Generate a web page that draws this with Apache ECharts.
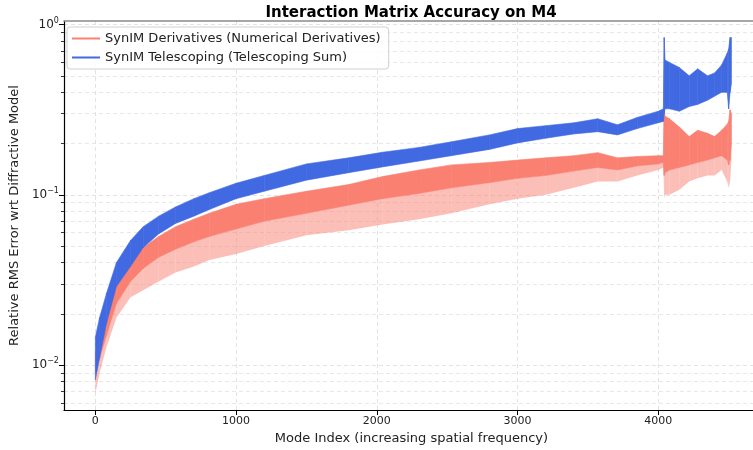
<!DOCTYPE html>
<html>
<head>
<meta charset="utf-8">
<script src="https://cdn.jsdelivr.net/npm/echarts@6/dist/echarts.min.js"></script>
<style>
  html, body { margin: 0; padding: 0; background: #fff; }
  #chart { width: 753px; height: 450px; }
</style>
</head>
<body>
<div id="chart"></div>
<script>
const modes = [0, 30, 80, 150, 250, 340, 450, 570, 700, 810, 1000, 1200, 1500, 1800, 2040, 2300, 2530, 2800, 3000,
  3200, 3400, 3570, 3710, 3850, 4000, 4036, 4042, 4048, 4080, 4150, 4220, 4280, 4350, 4400, 4450, 4490, 4500, 4510, 4520];

// SynIM Telescoping: upper / lower edge of the noisy band
const teleHi = [0.0146, 0.019, 0.0265, 0.040, 0.054, 0.065, 0.075, 0.085, 0.095, 0.103, 0.117, 0.13, 0.152, 0.165, 0.178,
  0.19, 0.205, 0.225, 0.245, 0.255, 0.265, 0.28, 0.258, 0.285, 0.31, 0.32, 0.84, 0.62, 0.60, 0.56, 0.50, 0.55, 0.50, 0.52,
  0.58, 0.68, 0.72, 0.84, 0.84];
const teleLo = [0.0082, 0.011, 0.0177, 0.029, 0.038, 0.049, 0.059, 0.068, 0.075, 0.082, 0.095, 0.105, 0.122, 0.135, 0.146,
  0.158, 0.17, 0.185, 0.202, 0.215, 0.228, 0.235, 0.225, 0.245, 0.265, 0.27, 0.30, 0.32, 0.32, 0.31, 0.33, 0.34, 0.36, 0.38,
  0.40, 0.40, 0.32, 0.40, 0.45];

// SynIM Derivatives: upper edge, lower edge of the dense part, tips of the downward spikes
const derivHi = [0.0117, 0.0146, 0.0184, 0.030, 0.040, 0.049, 0.057, 0.065, 0.072, 0.078, 0.088, 0.095, 0.105, 0.115, 0.128,
  0.14, 0.15, 0.155, 0.16, 0.165, 0.17, 0.177, 0.165, 0.168, 0.17, 0.17, 0.32, 0.29, 0.28, 0.25, 0.22, 0.24, 0.23, 0.22,
  0.24, 0.26, 0.27, 0.316, 0.30];
const derivCore = [0.009, 0.011, 0.015, 0.023, 0.031, 0.037, 0.043, 0.048, 0.053, 0.057, 0.063, 0.07, 0.078, 0.087, 0.095,
  0.102, 0.11, 0.118, 0.125, 0.13, 0.138, 0.145, 0.14, 0.148, 0.152, 0.155, 0.13, 0.135, 0.14, 0.145, 0.15, 0.155, 0.16, 0.165,
  0.17, 0.16, 0.15, 0.16, 0.20];
const derivLo = [0.0068, 0.009, 0.0128, 0.019, 0.025, 0.0275, 0.031, 0.035, 0.038, 0.0415, 0.045, 0.05, 0.058, 0.062, 0.067,
  0.072, 0.078, 0.088, 0.095, 0.1, 0.11, 0.12, 0.12, 0.13, 0.14, 0.145, 0.096, 0.10, 0.10, 0.107, 0.12, 0.125, 0.13, 0.13,
  0.14, 0.12, 0.11, 0.12, 0.16];

const xTicks = [0, 1000, 2000, 3000, 4000];
const yMajor = [0.01, 0.1, 1];
const yMinor = [0.006, 0.007, 0.008, 0.009, 0.02, 0.03, 0.04, 0.05, 0.06, 0.07, 0.08, 0.09,
  0.2, 0.3, 0.4, 0.5, 0.6, 0.7, 0.8, 0.9];

const RED = '#fa8072';
const BLUE = '#4169e1';
const FONT = 'DejaVu Sans';

// pairs of consecutive samples -> one quad per segment
function segments(top, bottom) {
  const out = [];
  for (let i = 0; i < modes.length - 1; i++) {
    out.push([modes[i], top[i], bottom[i], modes[i + 1], top[i + 1], bottom[i + 1]]);
  }
  return out;
}

function band(name, color, top, bottom, opacity) {
  return {
    name: name,
    type: 'custom',
    clip: true,
    silent: true,
    itemStyle: { color: color },
    encode: { x: [0, 3], y: [1, 2, 4, 5] },
    data: segments(top, bottom),
    renderItem: function (params, api) {
      const a = api.coord([api.value(0), api.value(1)]);
      const b = api.coord([api.value(3), api.value(4)]);
      const c = api.coord([api.value(3), api.value(5)]);
      const d = api.coord([api.value(0), api.value(2)]);
      return {
        type: 'polygon',
        shape: { points: [a, b, c, d] },
        style: opacity < 1
          ? { fill: color, opacity: opacity }
          : { fill: color, stroke: color, lineWidth: 0.6 }
      };
    }
  };
}

const sup = { '-2': '−2', '-1': '−1', '0': '0' };
function logLabel(v) {
  const e = Math.round(Math.log10(v));
  return '10{s|' + sup[String(e)] + '}';
}

const chart = echarts.init(document.getElementById('chart'));
chart.setOption({
  animation: false,
  backgroundColor: '#fff',
  title: {
    text: 'Interaction Matrix Accuracy on M4',
    left: 406, top: 1, textAlign: 'center',
    textStyle: { fontFamily: FONT, fontSize: 15, fontWeight: 'bold', color: '#000' }
  },
  legend: {
    orient: 'vertical',
    left: 67, top: 27,
    padding: [5, 8, 5, 5],
    itemGap: 6,
    itemWidth: 28, itemHeight: 2,
    icon: 'rect',
    backgroundColor: 'rgba(255,255,255,0.85)',
    borderColor: '#d0d0d0', borderWidth: 1, borderRadius: 3,
    textStyle: { fontFamily: FONT, fontSize: 13, color: '#222' },
    data: ['SynIM Derivatives (Numerical Derivatives)', 'SynIM Telescoping (Telescoping Sum)']
  },
  grid: { left: 61, right: 0, top: 21, bottom: 40, containLabel: false },
  xAxis: [{
    type: 'value', min: -223, max: 4673,
    name: 'Mode Index (increasing spatial frequency)',
    nameLocation: 'middle', nameGap: 22,
    nameTextStyle: { fontFamily: FONT, fontSize: 13, color: '#222', padding: [0, 0, 0, 6] },
    axisLine: { onZero: false, lineStyle: { color: '#000', width: 1.2 } },
    axisTick: { customValues: xTicks, length: 5, lineStyle: { color: '#000' } },
    axisLabel: {
      customValues: xTicks, formatter: function (v) { return String(v); },
      fontFamily: FONT, fontSize: 11, color: '#222', margin: 6
    },
    splitLine: { show: true, lineStyle: { color: '#dcdcdc', type: [4, 3], width: 0.8 } }
  }, {
    type: 'value', position: 'top', min: -223, max: 4673,
    axisLine: { show: true, onZero: false, lineStyle: { color: '#8a8a8a', width: 1.5 } },
    axisTick: { show: false }, axisLabel: { show: false }, splitLine: { show: false }
  }],
  yAxis: [{
    type: 'log', min: 0.00545, max: 1.05,
    name: 'Relative RMS Error wrt Diffractive Model',
    nameLocation: 'middle', nameGap: 40,
    nameTextStyle: { fontFamily: FONT, fontSize: 13, color: '#222' },
    axisLine: { show: true, onZero: false, lineStyle: { color: '#000', width: 1.2 } },
    axisTick: { customValues: yMajor, length: 5, lineStyle: { color: '#000' } },
    axisLabel: {
      customValues: yMajor, formatter: logLabel, margin: 5,
      fontFamily: FONT, fontSize: 12, color: '#222',
      rich: { s: { fontFamily: FONT, fontSize: 8, verticalAlign: 'top', padding: [0, 0, 8, 0], color: '#222' } }
    },
    splitLine: { show: true, lineStyle: { color: '#dcdcdc', type: [4, 3], width: 0.8 } }
  }, {
    type: 'log', min: 0.00545, max: 1.05, position: 'left',
    axisLine: { show: false, onZero: false },
    axisTick: { show: true, customValues: yMinor, length: 3, lineStyle: { color: '#000', width: 0.8 } },
    axisLabel: { show: false },
    splitLine: { show: true, lineStyle: { color: '#e2e2e2', type: [4, 3], width: 0.8 } }
  }],
  series: [
    band('SynIM Derivatives (Numerical Derivatives)', RED, derivHi, derivCore, 1),
    band('SynIM Derivatives (Numerical Derivatives)', RED, derivCore, derivLo, 0.5),
    band('SynIM Telescoping (Telescoping Sum)', BLUE, teleHi, teleLo, 1)
  ]
});
</script>
</body>
</html>
